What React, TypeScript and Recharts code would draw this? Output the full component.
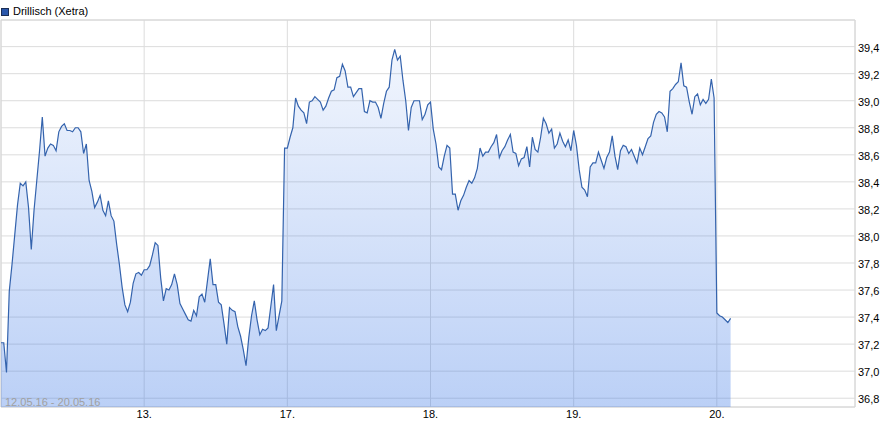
// Drillisch (Xetra) – Intraday-Kursverlauf 12.05.16 bis 20.05.16 (Recharts area)
import { AreaChart, Area, XAxis, YAxis, CartesianGrid, ReferenceArea } from 'recharts';

// Handelstage und Achsenbeschriftungen
const DAY_LABELS = ['12.', '13.', '17.', '18.', '19.', '20.'];
const X_TICKS = [1, 2, 3, 4, 5];
const Y_TICKS = [36.8, 37.0, 37.2, 37.4, 37.6, 37.8, 38.0, 38.2, 38.4, 38.6, 38.8, 39.0, 39.2, 39.4];
const Y_MIN = 36.735;
const Y_MAX = 39.597;
const X_MAX = 5.965;
const POINTS_PER_DAY = 52;

// Kurse je Handelstag (EUR)
const day12 = [
  37.21, 37.21, 36.99, 37.59, 37.79, 38.01, 38.23, 38.39, 38.37, 38.40,
  38.21, 37.90, 38.19, 38.41, 38.63, 38.88, 38.59, 38.65, 38.68, 38.67,
  38.63, 38.77, 38.81, 38.83, 38.78, 38.78, 38.77, 38.80, 38.80, 38.77,
  38.61, 38.68, 38.41, 38.33, 38.21, 38.25, 38.30, 38.19, 38.15, 38.26,
  38.15, 38.11, 37.94, 37.79, 37.62, 37.49, 37.44, 37.51, 37.65, 37.72,
  37.73, 37.71,
];
const day13 = [
  37.75, 37.75, 37.78, 37.86, 37.95, 37.93, 37.69, 37.52, 37.61, 37.60,
  37.64, 37.72, 37.64, 37.50, 37.46, 37.42, 37.38, 37.37, 37.45, 37.41,
  37.55, 37.57, 37.51, 37.67, 37.83, 37.64, 37.64, 37.51, 37.49, 37.35,
  37.20, 37.47, 37.45, 37.44, 37.33, 37.26, 37.16, 37.04, 37.25, 37.41,
  37.52, 37.38, 37.27, 37.31, 37.30, 37.32, 37.48, 37.64, 37.30, 37.41,
  37.52, 38.65,
];
const day17 = [
  38.65, 38.73, 38.80, 39.02, 38.96, 38.93, 38.91, 38.83, 38.99, 39.00,
  39.03, 39.01, 38.99, 38.93, 38.96, 39.02, 39.07, 39.08, 39.17, 39.18,
  39.27, 39.22, 39.10, 39.10, 39.03, 39.06, 39.09, 39.09, 38.92, 38.91,
  39.00, 38.99, 38.99, 38.95, 38.87, 38.98, 39.07, 39.10, 39.30, 39.38,
  39.30, 39.33, 39.15, 39.00, 38.78, 38.95, 39.00, 39.00, 39.00, 38.86,
  38.90, 38.97,
];
const day18 = [
  38.99, 38.79, 38.68, 38.51, 38.49, 38.59, 38.67, 38.65, 38.31, 38.31,
  38.19, 38.26, 38.30, 38.36, 38.41, 38.39, 38.43, 38.50, 38.65, 38.59,
  38.62, 38.62, 38.66, 38.69, 38.75, 38.58, 38.63, 38.66, 38.71, 38.75,
  38.62, 38.61, 38.52, 38.57, 38.58, 38.66, 38.51, 38.73, 38.64, 38.62,
  38.73, 38.87, 38.83, 38.76, 38.79, 38.65, 38.68, 38.76, 38.70, 38.66,
  38.71, 38.63,
];
const day19 = [
  38.78, 38.67, 38.49, 38.36, 38.34, 38.29, 38.51, 38.54, 38.54, 38.62,
  38.56, 38.50, 38.58, 38.62, 38.74, 38.59, 38.49, 38.63, 38.67, 38.66,
  38.61, 38.64, 38.59, 38.54, 38.65, 38.60, 38.66, 38.72, 38.74, 38.84,
  38.90, 38.92, 38.91, 38.88, 38.77, 39.07, 39.09, 39.12, 39.14, 39.28,
  39.11, 39.10, 38.99, 38.90, 39.03, 39.05, 38.97, 39.01, 38.98, 39.01,
  39.16, 39.02,
];
const day20 = [37.43, 37.41, 37.40, 37.38, 37.36, 37.39];

const DAYS = [day12, day13, day17, day18, day19, day20];

const data = DAYS.flatMap((values, d) =>
  values.map((price, i) => ({ t: d + i / POINTS_PER_DAY, price })),
);

const FONT = '"Liberation Sans", Arial, Helvetica, sans-serif';

export default function App() {
  return (
    <div
      style={{
        position: 'absolute', left: 0, top: 0, width: 895, height: 423,
        background: '#fff', fontFamily: FONT,
      }}
    >
      {/* Legende */}
      <div
        style={{
          position: 'absolute', left: 1, top: 5, display: 'flex', alignItems: 'center',
          fontSize: 11, lineHeight: '12px', color: '#000', zIndex: 2,
        }}
      >
        <span
          style={{
            display: 'inline-block', width: 6, height: 6, background: '#2a57ab',
            border: '1px solid #1c2f55', marginRight: 4, marginTop: 1,
          }}
        />
        <span>Drillisch (Xetra)</span>
      </div>

      <AreaChart
        width={895}
        height={423}
        data={data}
        margin={{ top: 20, right: 0, bottom: 0, left: 1 }}
        style={{ fontFamily: FONT }}
      >
        <defs>
          <linearGradient id="priceFill" x1="0" y1="0" x2="0" y2="1">
            <stop offset="0%" stopColor="#3c78e6" stopOpacity={0.07} />
            <stop offset="100%" stopColor="#3c78e6" stopOpacity={0.35} />
          </linearGradient>
        </defs>

        <CartesianGrid stroke="#dcdcdc" />

        <XAxis
          dataKey="t"
          type="number"
          domain={[0, X_MAX]}
          ticks={X_TICKS}
          tickFormatter={(v) => DAY_LABELS[v]}
          allowDataOverflow
          axisLine={false}
          tickLine={false}
          tickSize={0}
          tickMargin={3}
          height={16}
          tick={{ fontSize: 11, fill: '#000' }}
        />

        <YAxis
          orientation="right"
          domain={[Y_MIN, Y_MAX]}
          ticks={Y_TICKS}
          tickFormatter={(v) => v.toFixed(1).replace('.', ',')}
          allowDataOverflow
          axisLine={false}
          tickLine={false}
          tickSize={0}
          tickMargin={3}
          width={40}
          tick={{ fontSize: 11, fill: '#000', dy: 1 }}
        />

        <ReferenceArea
          x1={0}
          x2={X_MAX}
          y1={Y_MIN}
          y2={Y_MAX}
          fill="none"
          stroke="#d6d6d6"
        />

        <Area
          type="linear"
          dataKey="price"
          stroke="#3463ad"
          strokeWidth={1.2}
          fill="url(#priceFill)"
          fillOpacity={1}
          dot={false}
          activeDot={false}
          isAnimationActive={false}
        />
      </AreaChart>

      {/* Zeitraum */}
      <div
        style={{
          position: 'absolute', left: 5, top: 396, fontSize: 11, lineHeight: '12px',
          color: '#a0a0a0', zIndex: 2,
        }}
      >
        12.05.16 - 20.05.16
      </div>
    </div>
  );
}
